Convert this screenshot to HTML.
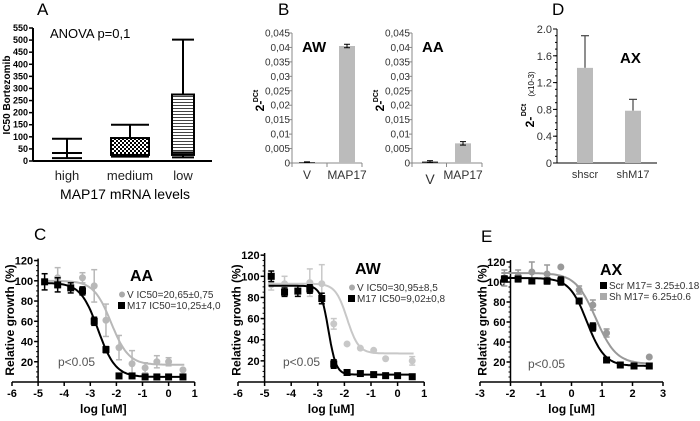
<!DOCTYPE html>
<html><head><meta charset="utf-8"><style>
body{margin:0;background:#fff}
svg{display:block;font-family:"Liberation Sans",Arial,sans-serif}
</style></head><body>
<svg id="fig" width="700" height="421" viewBox="0 0 700 421" xmlns="http://www.w3.org/2000/svg">
<g id="g" fill="none" stroke="none"></g>
</svg>
<script>
// ---------- data ----------
const boxCats = ["high","medium","low"];
const boxMin = [12,18,15];
const boxQ1 = [33,25,25];
const boxMed = [33,25,35];
const boxQ3 = [33,95,275];
const boxMax = [92,150,502];
const boxTicks = [0,50,100,150,200,250,300,350,400,450,500,550];

const qTicks = [0,0.005,0.01,0.015,0.02,0.025,0.03,0.035,0.04,0.045];
const qTickLabels = ["0","0,005","0,01","0,015","0,02","0,025","0,03","0,035","0,04","0,045"];
const qCats = ["V","MAP17"];
const awBar = [0.0003,0.0405];
const awErr = [0.0001,0.0006];
const aaBar = [0.0005,0.0068];
const aaErr = [0.0003,0.0006];

const dCats = ["shscr","shM17"];
const dVals = [1.42,0.78];
const dErr = [0.48,0.17];
const dTicks = [0,0.4,0.8,1.2,1.6,2.0];
const dTickLabels = ["0","0.4","0.8","1.2","1.6","2.0"];

const cX = [-4.75,-4.25,-3.75,-3.3,-2.85,-2.4,-1.9,-1.4,-0.9,-0.45,0,0.55];
const aaM17 = [99,96,93,90,60,32,6,6,5,5,5,5];
const aaM17Err = [8,7,5,4,4,3,1,1,1,1,1,1];
const aaV = [null,103,null,103,95,61,34,18,14,20,20,12];
const aaVErr = [0,10,0,5,16,16,12,13,5,6,4,0];
const aaM17Fit = [98,5,-2.7,1.3];
const aaVFit = [100,17,-2.2,1.3];

const awM17 = [100,85,86,88,79,17,9,8,7,6,6,5];
const awM17Err = [5,4,5,4,5,4,2,1,1,1,1,1];
const awV = [92,93,null,94,93,55,36,32,30,22,null,20];
const awVErr = [5,7,0,13,18,5,0,0,0,0,0,4];
const awM17Fit = [91,7,-2.6,3];
const awVFit = [93,27,-1.9,2];
const cXTicks = [-6,-5,-4,-3,-2,-1,0,1];
const cYTicks = [20,40,60,80,100,120];

const eX = [-2.2,-1.75,-1.3,-0.8,-0.35,0.25,0.7,1.15,1.6,2.05,2.55];
const eScr = [103,103,101,101,101,81,55,22,17,16,16];
const eScrErr = [3,2,2,3,4,2,4,2,2,1,1];
const eSh = [104,106,110,108,115,92,77,49,17,17,25];
const eShErr = [8,6,10,9,0,4,5,4,2,2,0];
const eScrFit = [104,16,0.51,1.5];
const eShFit = [109,18,0.8,1.3];
const eXTicks = [-3,-2,-1,0,1,2,3];

// ---------- helpers ----------
const NS="http://www.w3.org/2000/svg";
const root=document.getElementById('g');
function el(tag,attrs,parent){const e=document.createElementNS(NS,tag);for(const k in attrs)e.setAttribute(k,attrs[k]);(parent||root).appendChild(e);return e;}
function line(x1,y1,x2,y2,c,w,p){return el('line',{x1,y1,x2,y2,stroke:c||'#000','stroke-width':w||1},p);}
function txt(x,y,s,o,p){o=o||{};const t=el('text',{x,y,'font-size':o.size||11,fill:o.fill||'#000','text-anchor':o.anchor||'start','font-weight':o.bold?'bold':'normal'},p);if(o.rot)t.setAttribute('transform',`rotate(-90 ${x} ${y})`);t.textContent=s;return t;}
function grp(name){const g=el('g',{},root);return g;}

// ---------- Panel A ----------
(function(){
 const g=grp('panel-a-boxplot');
 const X0=33,X1=212,Y0=161,Y1=28;
 const ys=v=>Y0-(v/550)*(Y0-Y1);
 const cx=[67,130,183];const bw=[30,38,22];
 txt(37,15,'A',{size:17},g);
 line(X0,Y0,X1,Y0,'#000',2,g);line(X0,Y0,X0,Y1,'#000',2,g);
 boxTicks.forEach(v=>{line(X0-4,ys(v),X0,ys(v),'#000',1.5,g);txt(X0-5,ys(v)+3,String(v),{size:9,bold:true,anchor:'end'},g);});
 const d=el('defs',{},g);
 const p1=el('pattern',{id:'chk',width:4,height:4,patternUnits:'userSpaceOnUse'},d);
 el('rect',{width:4,height:4,fill:'#fff'},p1);el('rect',{width:2,height:2,fill:'#000'},p1);el('rect',{x:2,y:2,width:2,height:2,fill:'#000'},p1);
 const p2=el('pattern',{id:'hl',width:4,height:3,patternUnits:'userSpaceOnUse'},d);
 el('rect',{width:4,height:3,fill:'#fff'},p2);el('rect',{width:4,height:1,fill:'#444'},p2);
 const fills=['#fff','url(#chk)','url(#hl)'];
 boxCats.forEach((c,i)=>{
  const b=el('g',{},g);
  const x=cx[i],w=bw[i];
  line(x,ys(boxMax[i]),x,ys(boxQ3[i]),'#000',2,b);line(x-w/2,ys(boxMax[i]),x+w/2,ys(boxMax[i]),'#000',2,b);
  line(x,ys(boxMin[i]),x,ys(boxQ1[i]),'#000',2,b);line(x-w/2,ys(boxMin[i]),x+w/2,ys(boxMin[i]),'#000',2,b);
  if(boxQ3[i]>boxQ1[i])el('rect',{x:x-w/2,y:ys(boxQ3[i]),width:w,height:ys(boxQ1[i])-ys(boxQ3[i]),fill:fills[i],stroke:'#000','stroke-width':2},b);
  line(x-w/2,ys(boxMed[i]),x+w/2,ys(boxMed[i]),'#000',2,b);
  txt(x,180,c,{size:13,anchor:'middle',fill:'#222'},g);
 });
 txt(50,38,'ANOVA p=0,1',{size:13},g);
 txt(10,95,'IC50 Bortezomib',{size:10,bold:true,rot:true,anchor:'middle'},g);
 txt(125,199,'MAP17 mRNA levels',{size:14,anchor:'middle'},g);
})();

// ---------- Panel B ----------
function qpanel(name,ax,xend,cx,vals,errs,label){
 const g=grp(name);
 const Y0=163,Y1=33;const ys=v=>Y0-(v/0.045)*(Y0-Y1);
 line(ax,Y0,xend,Y0,'#888',1,g);line(ax,Y0,ax,Y1,'#888',1,g);
 line((cx[0]+cx[1])/2,Y0,(cx[0]+cx[1])/2,Y0+4,'#888',1,g);line(xend,Y0,xend,Y0+4,'#888',1,g);line(ax,Y0,ax,Y0+4,'#888',1,g);
 qTicks.forEach((v,i)=>{line(ax-3,ys(v),ax,ys(v),'#888',1,g);txt(ax-2,ys(v)+3.5,qTickLabels[i],{size:10,anchor:'end',fill:'#333'},g);});
 vals.forEach((v,i)=>{
  const r=el('rect',{x:cx[i]-8,y:ys(v),width:16,height:Y0-ys(v),fill:i==0?'#333':'#bbb'},g);
  
  line(cx[i],ys(v+errs[i]),cx[i],ys(v-errs[i]),'#000',1,g);
  line(cx[i]-3,ys(v+errs[i]),cx[i]+3,ys(v+errs[i]),'#000',1,g);line(cx[i]-3,ys(v-errs[i]),cx[i]+3,ys(v-errs[i]),'#000',1,g);
  txt(cx[i],i==0&&name.includes('aa')?184:179,qCats[i],{size:i==0&&name.includes('aa')?14:12,anchor:'middle',fill:'#333'},g);
 });
 txt(ax+10,52,label,{size:15,bold:true},g);
 txt(ax-28,106,'2-',{size:12,bold:true,rot:true,anchor:'middle'},g);
 txt(ax-34,96,'DCt',{size:7,bold:true,rot:true,anchor:'middle'},g);
}
txt(278,15,'B',{size:17});
qpanel('panel-b-aw-bars',292,362,[307,347],awBar,awErr,'AW');
qpanel('panel-b-aa-bars',412,482,[430,463],aaBar,aaErr,'AA');

// ---------- Panel D ----------
(function(){
 const g=grp('panel-d-bars');
 const ax=557,xe=657,Y0=163,Y1=29;const ys=v=>Y0-(v/2)*(Y0-Y1);
 const cx=[585,633];
 txt(552,15,'D',{size:17},g);
 line(ax,Y0,xe,Y0,'#000',1,g);line(ax,Y0,ax,Y1,'#000',1,g);
 for(let v=0;v<=2.001;v+=0.1)line(ax-2,ys(v),ax,ys(v),'#000',1,g);
 dTicks.forEach((v,i)=>{line(ax-4,ys(v),ax,ys(v),'#000',1,g);txt(ax-5,ys(v)+4,dTickLabels[i],{size:11,anchor:'end',fill:'#333'},g);});
 dVals.forEach((v,i)=>{
  line(cx[i],ys(v),cx[i],ys(v+dErr[i]),'#444',1.2,g);line(cx[i]-4,ys(v+dErr[i]),cx[i]+4,ys(v+dErr[i]),'#444',1.2,g);
  const r=el('rect',{x:cx[i]-8,y:ys(v),width:16,height:Y0-ys(v),fill:'#bbb'},g);
  
  txt(cx[i],178,dCats[i],{size:11,anchor:'middle',fill:'#333'},g);
 });
 txt(620,63,'AX',{size:15,bold:true},g);
 txt(534,122,'2-',{size:12,bold:true,rot:true,anchor:'middle'},g);
 txt(526,110,'DCt',{size:7,bold:true,rot:true,anchor:'middle'},g);
 txt(534,84,'(x10-3)',{size:8,rot:true,anchor:'middle'},g);
})();

// ---------- dose-response panels ----------
function sig(p,x){return p[1]+(p[0]-p[1])/(1+Math.pow(10,(x-p[2])*p[3]));}
function drc(name,o){
 const g=grp(name);
 const xs=v=>o.x0+(v-o.xmin)*o.k;const Y0=382,ys=v=>Y0-v*o.ky;
 const yax=xs(o.yAt);
 line(xs(o.xt[0]),Y0,xs(o.xt[o.xt.length-1]),Y0,'#000',1.5,g);
 line(yax,Y0,yax,ys(122),'#000',1.5,g);
 o.xt.forEach(v=>{line(xs(v),Y0,xs(v),Y0+4,'#000',1.5,g);txt(xs(v),Y0+15,String(v),{size:11,bold:true,anchor:'middle'},g);});
 for(let v=0;v<=120;v+=5)line(yax-2,ys(v),yax,ys(v),'#000',1,g);
 cYTicks.forEach(v=>{line(yax-4,ys(v),yax,ys(v),'#000',1.5,g);txt(yax-5,ys(v)+4,String(v),{size:11,bold:true,anchor:'end'},g);});
 o.series.forEach(s=>{
  let d='';const a=s.xs[0]-0.1,b=s.xs[s.xs.length-1]+0.05;
  for(let i=0;i<=100;i++){const x=a+(b-a)*i/100;d+=(i?'L':'M')+xs(x).toFixed(1)+','+ys(sig(s.fit,x)).toFixed(1);}
  const pth=el('path',{d,stroke:s.c,'stroke-width':2,fill:'none'},g);
  
  s.ys.forEach((v,i)=>{if(v==null)return;const X=xs(s.xs[i]),Y=ys(v),e=s.e[i];
   if(e){line(X,ys(v+e),X,ys(v-e),s.c,1.5,g);line(X-3,ys(v+e),X+3,ys(v+e),s.c,1.5,g);line(X-3,ys(v-e),X+3,ys(v-e),s.c,1.5,g);}
   const m=s.sq?el('rect',{x:X-3.5,y:Y-3.5,width:7,height:7,fill:s.c},g):el('circle',{cx:X,cy:Y,r:3.5,fill:s.c},g);
   
  });
 });
 txt(o.tx,o.ty,o.title,{size:16,bold:true},g);
 o.leg.forEach((l,i)=>{const y=o.ly+i*11;
  if(l.sq)el('rect',{x:o.lx-4,y:y-7,width:7,height:7,fill:l.c},g);else el('circle',{cx:o.lx,cy:y-3.5,r:3,fill:l.c},g);
  txt(o.lx+5,y,l.t,{size:10,fill:'#333'},g);});
 txt(o.px,o.py,'p<0.05',{size:12,fill:'#555'},g);
 txt((xs(o.xt[0])+xs(o.xt[o.xt.length-1]))/2,413,'log [uM]',{size:12,bold:true,anchor:'middle'},g);
 txt(yax-24,320,'Relative growth (%)',{size:12,bold:true,rot:true,anchor:'middle'},g);
}
txt(34,240,'C',{size:17});
drc('panel-c-aa-curves',{x0:12,xmin:-6,k:26.1,ky:1.012,yAt:-5,xt:cXTicks,
 series:[{n:'v',xs:cX,ys:aaV,e:aaVErr,fit:aaVFit,c:'#b8b8b8'},{n:'m17',xs:cX,ys:aaM17,e:aaM17Err,fit:aaM17Fit,c:'#000',sq:true}],
 title:'AA',tx:130,ty:281,lx:122,ly:298,leg:[{t:'V IC50=20,65±0,75',c:'#aaa'},{t:'M17 IC50=10,25±4,0',c:'#000',sq:true}],px:58,py:366});
drc('panel-c-aw-curves',{x0:238,xmin:-6,k:26.6,ky:1.057,yAt:-5,xt:cXTicks,
 series:[{n:'v',xs:cX,ys:awV,e:awVErr,fit:awVFit,c:'#c8c8c8'},{n:'m17',xs:cX,ys:awM17,e:awM17Err,fit:awM17Fit,c:'#000',sq:true}],
 title:'AW',tx:355,ty:274,lx:352,ly:291,leg:[{t:'V IC50=30,95±8,5',c:'#aaa'},{t:'M17 IC50=9,02±0,8',c:'#000',sq:true}],px:283,py:366});
txt(481,242,'E',{size:17});
drc('panel-e-ax-curves',{x0:480,xmin:-3,k:30.5,ky:1.0,yAt:-2,xt:eXTicks,
 series:[{n:'sh',xs:eX,ys:eSh,e:eShErr,fit:eShFit,c:'#999'},{n:'scr',xs:eX,ys:eScr,e:eScrErr,fit:eScrFit,c:'#000',sq:true}],
 title:'AX',tx:600,ty:275,lx:604,ly:289,leg:[{t:'Scr M17= 3.25±0.18',c:'#000',sq:true},{t:'Sh M17= 6.25±0.6',c:'#aaa',sq:true}],px:528,py:368});
</script>
</body></html>
